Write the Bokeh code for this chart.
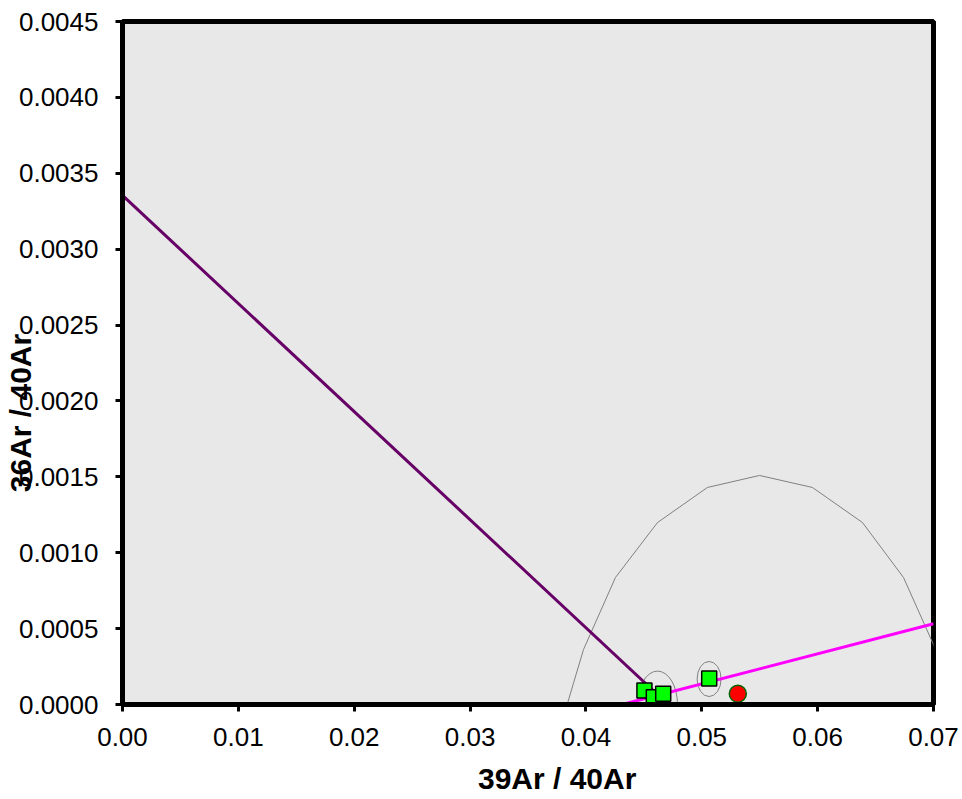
from bokeh.plotting import figure
from bokeh.models import FixedTicker, NumeralTickFormatter
from bokeh.embed import file_html
from bokeh.resources import INLINE

# ---- data ----
x_ticks = [0.00, 0.01, 0.02, 0.03, 0.04, 0.05, 0.06, 0.07]
y_ticks = [0.0000, 0.0005, 0.0010, 0.0015, 0.0020, 0.0025, 0.0030, 0.0035, 0.0040, 0.0045]

step_x = [0.04505, 0.04586, 0.04667, 0.05064]
step_y = [0.0000922, 0.0000481, 0.0000705, 0.000171]

excl_x = [0.05311]
excl_y = [0.0000705]

# error ellipses of the steps (centre, full width, full height)
ell_x = [0.04618, 0.05063]
ell_y = [0.0000, 0.000168]
ell_w = [0.00345, 0.00207]
ell_h = [0.00044, 0.000231]

# large error envelope (polyline vertices)
env_x = [0.0376, 0.03979, 0.04255, 0.04618, 0.05049, 0.05498, 0.05955, 0.06387, 0.06741, 0.0702, 0.0723]
env_y = [-0.0002, 0.000362, 0.000837, 0.001199, 0.00143, 0.001509, 0.00143, 0.001199, 0.000837, 0.00036, -0.0002]

# isochron / reference lines
purple_x = [0.0, 0.0471]
purple_y = [0.003354, 0.0]
magenta_x = [0.04313, 0.07]
magenta_y = [0.0, 0.000532]

x_title = "39Ar / 40Ar"
y_title = "36Ar / 40Ar"

FONT = "Liberation Sans"
NB = "\u00a0"

p = figure(width=962, height=799, x_range=(0, 0.07), y_range=(0, 0.0045),
           output_backend="svg", toolbar_location=None,
           min_border_left=122, min_border_right=29, min_border_top=21, min_border_bottom=95)

p.background_fill_color = "#E8E8E8"
p.border_fill_color = "white"
p.outline_line_color = "black"
p.outline_line_width = 5
p.grid.visible = False

for ax in (p.xaxis[0], p.yaxis[0]):
    ax.axis_line_color = "black"
    ax.axis_line_width = 5
    ax.major_tick_line_color = "black"
    ax.major_tick_line_width = 3
    ax.major_tick_in = 0
    ax.major_tick_out = 7
    ax.minor_tick_line_color = None
    ax.major_label_text_font = FONT
    ax.major_label_text_font_size = "26px"
    ax.major_label_text_color = "black"
    ax.axis_label_text_font = FONT
    ax.axis_label_text_font_size = "30px"
    ax.axis_label_text_font_style = "bold"
    ax.axis_label_text_color = "black"

p.xaxis[0].ticker = FixedTicker(ticks=x_ticks)
p.yaxis[0].ticker = FixedTicker(ticks=y_ticks)
p.xaxis[0].formatter = NumeralTickFormatter(format="0.00")
p.yaxis[0].formatter = NumeralTickFormatter(format="0.0000")
p.xaxis[0].major_label_standoff = 16
p.yaxis[0].major_label_standoff = 17

# axis titles (padding shifts them off-centre like the original)
p.xaxis[0].axis_label = NB * 7 + x_title
p.xaxis[0].axis_label_standoff = 13
p.yaxis[0].axis_label = y_title + NB * 12
p.yaxis[0].axis_label_standoff = -21

# envelope & ellipses
p.line(env_x, env_y, line_color="#808080", line_width=1)
p.ellipse(x=ell_x, y=ell_y, width=ell_w, height=ell_h, fill_color=None,
          line_color="#808080", line_width=1)

# lines
p.line(purple_x, purple_y, line_color="#660066", line_width=3)
p.line(magenta_x, magenta_y, line_color="#FF00FF", line_width=3)

# points
p.scatter(step_x, step_y, marker="square", size=15, fill_color="#00FF00",
          line_color="black", line_width=1.5)
p.scatter(excl_x, excl_y, marker="circle", size=17, fill_color="#FF0000",
          line_color="#006600", line_width=1.5)

open("out.html", "w").write(file_html(p, INLINE))
